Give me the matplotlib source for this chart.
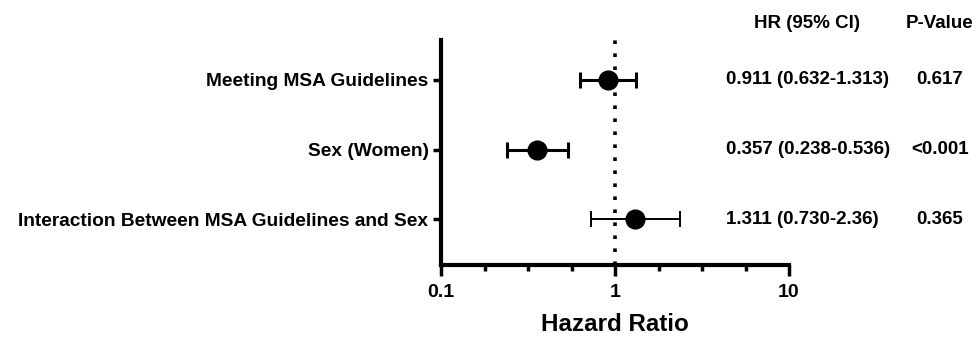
import matplotlib.pyplot as plt
import numpy as np
from matplotlib.transforms import blended_transform_factory

plt.rcParams['font.family'] = ['Liberation Sans', 'DejaVu Sans']
plt.rcParams['font.weight'] = 'bold'

# data
labels = ['Meeting MSA Guidelines', 'Sex (Women)', 'Interaction Between MSA Guidelines and Sex']
hr = [0.911, 0.357, 1.311]
lower = [0.632, 0.238, 0.730]
upper = [1.313, 0.536, 2.36]
hr_text = ['0.911 (0.632-1.313)', '0.357 (0.238-0.536)', '1.311 (0.730-2.36)']
p_text = ['0.617', '<0.001', '0.365']

W, H = 976, 337
fig = plt.figure(figsize=(W / 100, H / 100), dpi=100)
ax = fig.add_axes([441 / W, 1 - 265 / H, (789 - 441) / W, (265 - 40) / H])

ypos = np.arange(len(labels))
err = [np.array(hr) - np.array(lower), np.array(upper) - np.array(hr)]
widths = [2.2, 2.2, 1.4]
for i in range(len(labels)):
    ax.errorbar(hr[i], ypos[i], xerr=[[err[0][i]], [err[1][i]]], fmt='o', color='black',
                markersize=13.5, elinewidth=widths[i], capsize=6, capthick=widths[i], zorder=3)

ax.axvline(1, color='black', linestyle=(0, (1, 2.6)), linewidth=2.6, zorder=1)

ax.set_xscale('log')
ax.set_xlim(0.1, 10)
ax.set_ylim(2.66, -0.575)
ax.set_yticks(ypos)
ax.set_yticklabels(labels, fontsize=13.8, fontweight='bold')
ax.set_xticks([0.1, 1, 10])
ax.set_xticklabels(['0.1', '1', '10'], fontsize=14, fontweight='bold')
ax.set_xticks(10 ** np.arange(-1, 1.01, 0.25), minor=True)
ax.xaxis.set_minor_formatter(plt.NullFormatter())
ax.tick_params(axis='x', which='major', direction='out', length=8, width=2.5, pad=6)
ax.tick_params(axis='x', which='minor', direction='out', length=4.5, width=2.5)
ax.tick_params(axis='y', direction='out', length=6, width=2.5, pad=3)
ax.set_xlabel('Hazard Ratio', fontsize=17.4, fontweight='bold', labelpad=8)

for s in ['top', 'right']:
    ax.spines[s].set_visible(False)
for s in ['left', 'bottom']:
    ax.spines[s].set_linewidth(3)

# table columns
bt = blended_transform_factory(fig.transFigure, ax.transData)
for i in range(len(labels)):
    fig.text(726 / W, ypos[i], hr_text[i], transform=bt, fontsize=13.5, fontweight='bold', va='center', ha='left')
    fig.text(940 / W, ypos[i], p_text[i], transform=bt, fontsize=13.5, fontweight='bold', va='center', ha='center')
fig.text(807 / W, 1 - 23 / H, 'HR (95% CI)', fontsize=13.5, fontweight='bold', va='center', ha='center')
fig.text(940 / W, 1 - 23 / H, 'P-Value', fontsize=13.5, fontweight='bold', va='center', ha='center')

fig.savefig('out.png', dpi=100)
